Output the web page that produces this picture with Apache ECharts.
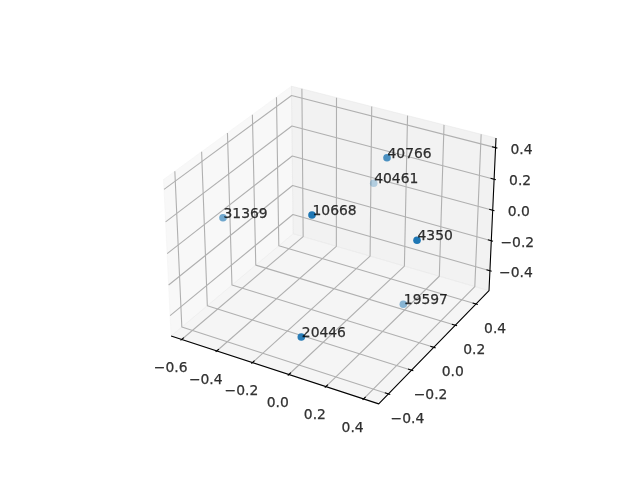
<!DOCTYPE html>
<html><head><meta charset="utf-8">
<style>html,body{margin:0;padding:0;background:#fff}#c{width:640px;height:480px}</style>
<script src="https://cdn.jsdelivr.net/npm/echarts@6/dist/echarts.min.js"></script>
</head><body><div id="c"></div>
<script>
const labels=['40766','40461','4350','31369','10668','20446','19597'];
const xValues=[0.0951,-0.1631,0.4130,-0.5943,-0.0346,0.0365,0.2131];
const yValues=[0.1895,0.4945,-0.0654,-0.1435,-0.2348,-0.4328,0.1643];
const zValues=[0.4217,-0.0077,0.1720,0.0303,0.2893,-0.3152,-0.4668];
const xTicks=[-0.6,-0.4,-0.2,0,0.2,0.4], yTicks=[-0.4,-0.2,0,0.2,0.4], zTicks=[-0.4,-0.2,0,0.2,0.4];
const xLim=[-0.661,0.479], yLim=[-0.482,0.528], zLim=[-0.535,0.46];
const norm=Math.sqrt(41), k=1.8294640721620434*25/24/norm;
const A=[4*k,4*k,3*k], R=A.map(v=>v/2);
const el=30*Math.PI/180, az=-60*Math.PI/180;
const W=[Math.cos(el)*Math.cos(az),Math.cos(el)*Math.sin(az),Math.sin(el)];
const U=[-W[1],W[0],0].map(v=>v/Math.hypot(W[0],W[1]));
const V=[W[1]*U[2]-W[2]*U[1],W[2]*U[0]-W[0]*U[2],W[0]*U[1]-W[1]*U[0]];
const dot=(a,b)=>a[0]*b[0]+a[1]*b[1]+a[2]*b[2];
function box(x,y,z){return [(x-xLim[0])/(xLim[1]-xLim[0])*A[0]-R[0],(y-yLim[0])/(yLim[1]-yLim[0])*A[1]-R[1],(z-zLim[0])/(zLim[1]-zLim[0])*A[2]-R[2]];}
function project(x,y,z){const p=box(x,y,z);const d=10-dot(p,W);return [dot(p,U)/d,dot(p,V)/d];}
const chart=echarts.init(document.getElementById('c'),null,{renderer:'canvas'});
const series=[];
const GRID='rgb(176,176,176)';
function poly(name,pts,color,width){series.push({type:'line',name,data:pts.map(p=>project(...p)),showSymbol:false,symbol:'none',silent:true,animation:false,z:2,clip:false,lineStyle:{color,width}})}
const panes=[
 {c:'rgba(242,242,242,0.5)',p:[[xLim[0],yLim[0],zLim[0]],[xLim[0],yLim[1],zLim[0]],[xLim[0],yLim[1],zLim[1]],[xLim[0],yLim[0],zLim[1]]]},
 {c:'rgba(230,230,230,0.5)',p:[[xLim[0],yLim[1],zLim[0]],[xLim[1],yLim[1],zLim[0]],[xLim[1],yLim[1],zLim[1]],[xLim[0],yLim[1],zLim[1]]]},
 {c:'rgba(236,236,236,0.5)',p:[[xLim[0],yLim[0],zLim[0]],[xLim[1],yLim[0],zLim[0]],[xLim[1],yLim[1],zLim[0]],[xLim[0],yLim[1],zLim[0]]]}
];
series.push({type:'custom',silent:true,animation:false,z:1,clip:false,data:panes.map((_,i)=>[i]),
 renderItem:(params,api)=>{const pn=panes[params.dataIndex];
  return {type:'polygon',shape:{points:pn.p.map(q=>api.coord(project(...q)))},style:{fill:pn.c,stroke:pn.c,lineWidth:1}}}});
xTicks.forEach(t=>poly('gx',[[t,yLim[0],zLim[0]],[t,yLim[1],zLim[0]],[t,yLim[1],zLim[1]]],GRID,1.1));
yTicks.forEach(t=>poly('gy',[[xLim[1],t,zLim[0]],[xLim[0],t,zLim[0]],[xLim[0],t,zLim[1]]],GRID,1.1));
zTicks.forEach(t=>poly('gz',[[xLim[0],yLim[0],t],[xLim[0],yLim[1],t],[xLim[1],yLim[1],t]],GRID,1.1));
poly('ax',[[xLim[0],yLim[0],zLim[0]],[xLim[1],yLim[0],zLim[0]],[xLim[1],yLim[1],zLim[0]],[xLim[1],yLim[1],zLim[1]]],'#000',1.1);
const dx=(xLim[1]-xLim[0])/12, dy=(yLim[1]-yLim[0])/12;
xTicks.forEach(t=>poly('tx',[[t,yLim[0]-.1*dy,zLim[0]],[t,yLim[0]+.2*dy,zLim[0]]],'#000',1.1));
yTicks.forEach(t=>poly('ty',[[xLim[1]+.1*dx,t,zLim[0]],[xLim[1]-.2*dx,t,zLim[0]]],'#000',1.1));
zTicks.forEach(t=>poly('tz',[[xLim[1]+.1*dx,yLim[1],t],[xLim[1]-.2*dx,yLim[1],t]],'#000',1.1));
const fmt=v=>v.toFixed(1).replace('-','\u2212');
const ink={color:'#000',fontFamily:'DejaVu Sans',fontSize:13.89,textBorderColor:'#000',textBorderWidth:0.25};
function tickLabels(ticks,f,off){series.push({type:'scatter',symbolSize:0,silent:true,animation:false,z:5,clip:false,
 data:ticks.map(t=>({value:project(...f(t)),label:{show:true,position:'inside',formatter:fmt(t),offset:off,align:'center',verticalAlign:'middle',...ink}}))})}
tickLabels(xTicks,t=>[t,yLim[0],zLim[0]],[-11,29]);
tickLabels(yTicks,t=>[xLim[1],t,zLim[0]],[19,25]);
tickLabels(zTicks,t=>[xLim[1],yLim[1],t],[26,2.5]);
const depths=labels.map((_,i)=>dot(box(xValues[i],yValues[i],zValues[i]),W));
const dMin=Math.min(...depths), dMax=Math.max(...depths);
series.push({type:'scatter',name:'points',symbol:'circle',symbolSize:7.6,silent:true,animation:false,z:4,clip:false,
 data:labels.map((_,i)=>({value:project(xValues[i],yValues[i],zValues[i]),itemStyle:{color:'rgb(31,119,180)',opacity:0.3+0.7*(depths[i]-dMin)/(dMax-dMin)}}))});
series.push({type:'scatter',name:'labels',symbolSize:0,silent:true,animation:false,z:6,clip:false,
 data:labels.map((s,i)=>({value:project(xValues[i],yValues[i],zValues[i]),label:{show:true,position:'inside',formatter:s,offset:[0.5,-3.5],align:'left',verticalAlign:'middle',...ink}}))});
chart.setOption({animation:false,backgroundColor:'#fff',
 grid:{left:143.2,top:57.6,width:369.6,height:369.6},
 xAxis:{type:'value',min:-0.095,max:0.09,show:false},
 yAxis:{type:'value',min:-0.095,max:0.09,show:false},
 series});
</script></body></html>
